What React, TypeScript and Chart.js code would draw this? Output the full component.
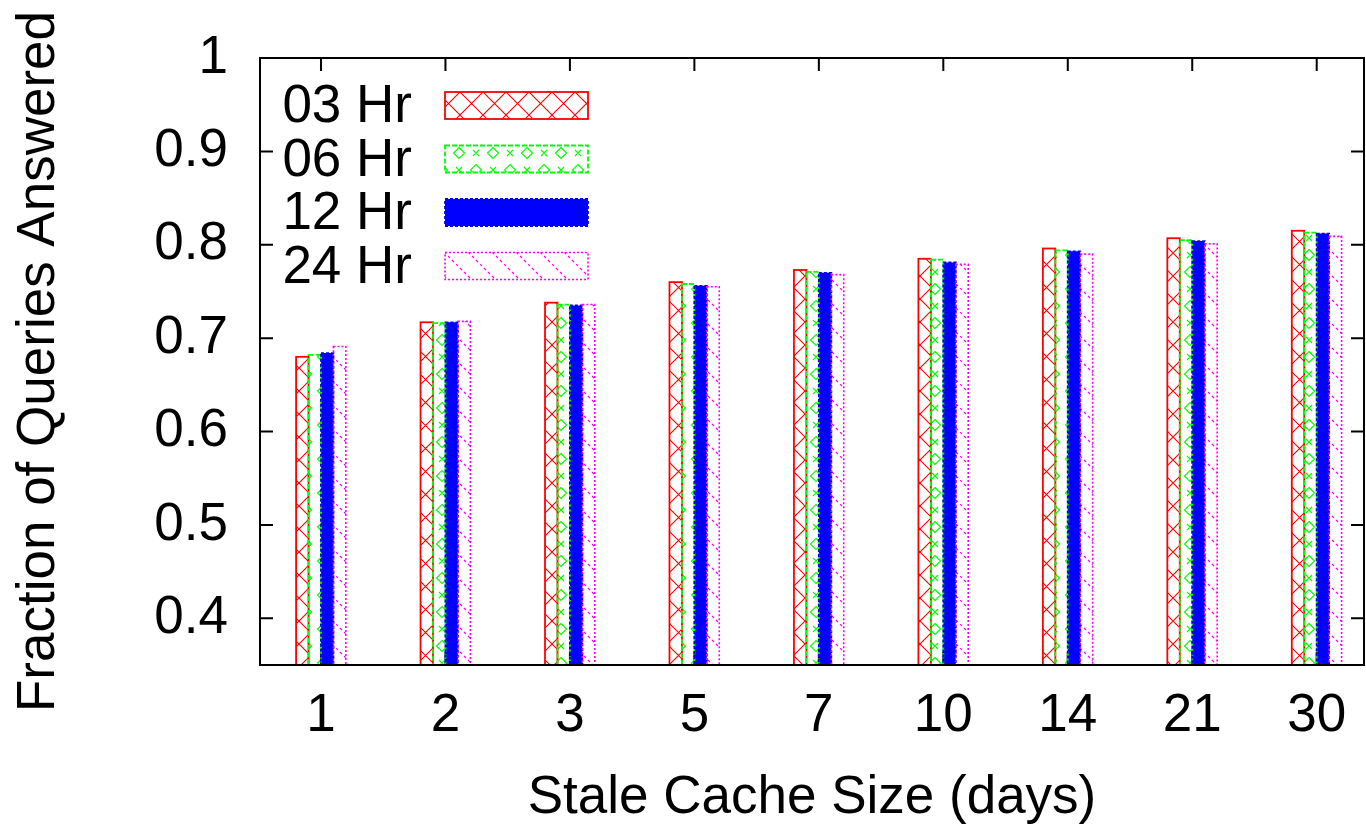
import React, { useEffect, useRef } from 'react';
import { Chart, registerables } from 'chart.js';

Chart.register(...registerables);

const categories = ['1', '2', '3', '5', '7', '10', '14', '21', '30'];
const seriesLabels = ['03 Hr', '06 Hr', '12 Hr', '24 Hr'];
const hr03 = [0.680, 0.717, 0.738, 0.760, 0.773, 0.785, 0.796, 0.807, 0.815];
const hr06 = [0.682, 0.716, 0.736, 0.758, 0.771, 0.784, 0.794, 0.805, 0.813];
const hr12 = [0.684, 0.717, 0.735, 0.756, 0.770, 0.781, 0.793, 0.804, 0.812];
const hr24 = [0.691, 0.718, 0.736, 0.755, 0.768, 0.779, 0.790, 0.801, 0.809];
const yTicks = [0.4, 0.5, 0.6, 0.7, 0.8, 0.9, 1];
const xTitle = 'Stale Cache Size (days)';
const yTitle = 'Fraction of Queries Answered';

const FONT = '"Liberation Sans", Arial, Helvetica, sans-serif';
const FS = 53;

function makeTile(w: number, h: number, draw: (c: CanvasRenderingContext2D) => void) {
  const cv = document.createElement('canvas');
  cv.width = w;
  cv.height = h;
  const c = cv.getContext('2d') as CanvasRenderingContext2D;
  draw(c);
  return c.createPattern(cv, 'repeat') as CanvasPattern;
}

function buildPatterns() {
  const red = makeTile(23, 23, (c) => {
    c.strokeStyle = '#ff0000';
    c.lineWidth = 1.1;
    c.beginPath();
    for (const o of [-23, 0, 23]) {
      c.moveTo(o, 0);
      c.lineTo(o + 23, 23);
      c.moveTo(o + 23, 0);
      c.lineTo(o, 23);
    }
    c.stroke();
  });
  const green = makeTile(34, 34, (c) => {
    c.strokeStyle = '#00ff00';
    c.lineWidth = 1.2;
    const diamond = (x: number, y: number) => {
      const r = 5.5;
      c.moveTo(x, y - r);
      c.lineTo(x + r, y);
      c.lineTo(x, y + r);
      c.lineTo(x - r, y);
      c.closePath();
    };
    const cross = (x: number, y: number) => {
      const r = 3;
      c.moveTo(x - r, y - r);
      c.lineTo(x + r, y + r);
      c.moveTo(x + r, y - r);
      c.lineTo(x - r, y + r);
    };
    c.beginPath();
    for (const [x, y] of [[0, 0], [34, 0], [0, 34], [34, 34], [17, 17]]) diamond(x, y);
    for (const [x, y] of [[17, 0], [17, 34], [0, 17], [34, 17]]) cross(x, y);
    c.stroke();
  });
  const magenta = makeTile(24, 24, (c) => {
    c.strokeStyle = '#ff00ff';
    c.lineWidth = 1.1;
    c.beginPath();
    for (let t = 0; t < 24; t += 4) {
      c.moveTo(t, t);
      c.lineTo(t + 2, t + 2);
    }
    c.stroke();
  });
  return { red, green, blue: '#0000ff', magenta };
}

const borderStyles = [
  { color: '#ff0000', dash: [] as number[], width: 1.8 },
  { color: '#00ff00', dash: [5, 2], width: 1.8 },
  { color: '#0000ff', dash: [3, 2], width: 1.8 },
  { color: '#ff00ff', dash: [2, 2], width: 1.6 },
];

const framePlugin = {
  id: 'gnuFrame',
  beforeDatasetsDraw(chart: any) {
    const { ctx, chartArea: a, scales } = chart;
    const x = scales.x;
    const y = scales.y;
    ctx.save();
    ctx.strokeStyle = '#000';
    ctx.lineWidth = 2;
    ctx.beginPath();
    y.ticks.forEach((t: any) => {
      const py = y.getPixelForValue(t.value);
      ctx.moveTo(a.left, py);
      ctx.lineTo(a.left + 13, py);
      ctx.moveTo(a.right, py);
      ctx.lineTo(a.right - 13, py);
    });
    x.ticks.forEach((t: any) => {
      const px = x.getPixelForValue(t.value);
      ctx.moveTo(px, a.top);
      ctx.lineTo(px, a.top + 13);
      ctx.moveTo(px, a.bottom);
      ctx.lineTo(px, a.bottom - 13);
    });
    ctx.stroke();
    ctx.restore();
  },
  afterDatasetsDraw(chart: any) {
    const { ctx, chartArea: a } = chart;
    ctx.save();
    chart.data.datasets.forEach((ds: any, i: number) => {
      const st = borderStyles[i];
      const meta = chart.getDatasetMeta(i);
      ctx.strokeStyle = st.color;
      ctx.lineWidth = st.width;
      ctx.setLineDash(st.dash);
      meta.data.forEach((el: any) => {
        const p = el.getProps(['x', 'y', 'width', 'base'], true);
        const bottom = Math.min(p.base, a.bottom);
        ctx.strokeRect(p.x - p.width / 2, p.y, p.width, bottom - p.y);
      });
    });
    ctx.setLineDash([]);
    ctx.strokeStyle = '#000';
    ctx.lineWidth = 2;
    ctx.strokeRect(a.left, a.top, a.right - a.left, a.bottom - a.top);
    ctx.restore();
  },
  afterDraw(chart: any) {
    const { ctx, chartArea: a } = chart;
    ctx.save();
    ctx.font = `${FS}px ${FONT}`;
    ctx.textAlign = 'right';
    ctx.textBaseline = 'middle';
    chart.data.datasets.forEach((ds: any, i: number) => {
      const cy = a.top + 47.5 + i * 53.5;
      ctx.fillStyle = '#000';
      ctx.fillText(ds.label, a.left + 152, cy + 2);
      const bx = a.left + 185;
      const bw = 143;
      const bh = 27;
      ctx.fillStyle = ds.backgroundColor;
      ctx.fillRect(bx, cy - bh / 2, bw, bh);
      const st = borderStyles[i];
      ctx.strokeStyle = st.color;
      ctx.lineWidth = st.width;
      ctx.setLineDash(st.dash);
      ctx.strokeRect(bx, cy - bh / 2, bw, bh);
      ctx.setLineDash([]);
    });
    ctx.restore();
  },
};

export default function App() {
  const ref = useRef<HTMLCanvasElement>(null);
  useEffect(() => {
    const pats = buildPatterns();
    const fills = [pats.red, pats.green, pats.blue, pats.magenta];
    const series = [hr03, hr06, hr12, hr24];
    const chart = new Chart(ref.current as HTMLCanvasElement, {
      type: 'bar',
      data: {
        datasets: series.map((vals, i) => ({
          label: seriesLabels[i],
          data: vals.map((v, j) => ({ x: j, y: v })),
          backgroundColor: fills[i] as any,
          borderWidth: 0,
          categoryPercentage: 0.4,
          barPercentage: 1.0,
        })),
      },
      options: {
        responsive: false,
        animation: false,
        layout: { padding: { left: 0, top: 58, right: 2, bottom: 0 } },
        plugins: { legend: { display: false }, tooltip: { enabled: false } },
        scales: {
          x: {
            type: 'linear',
            min: -0.49,
            max: 8.38,
            offset: false,
            grid: { display: false, drawTicks: false },
            border: { display: false },
            afterBuildTicks: (s: any) => {
              s.ticks = categories.map((_, i) => ({ value: i }));
            },
            afterFit: (s: any) => {
              s.height = 163;
              s.paddingLeft = 0;
              s.paddingRight = 0;
            },
            ticks: {
              autoSkip: false,
              maxRotation: 0,
              padding: 20,
              color: '#000',
              font: { family: FONT, size: FS },
              callback: (v: any) => categories[v as number] ?? '',
            },
            title: {
              display: true,
              text: xTitle,
              color: '#000',
              font: { family: FONT, size: FS },
              padding: { top: 0, bottom: -2 },
            },
          },
          y: {
            min: 0.35,
            max: 1,
            grid: { display: false, drawTicks: false },
            border: { display: false },
            afterBuildTicks: (s: any) => {
              s.ticks = yTicks.map((v) => ({ value: v }));
            },
            afterFit: (s: any) => {
              s.width = 260;
              s.paddingTop = 0;
              s.paddingBottom = 0;
            },
            ticks: {
              padding: 32,
              color: '#000',
              font: { family: FONT, size: FS },
              callback: (v: any) => String(v),
            },
            title: {
              display: true,
              text: yTitle,
              color: '#000',
              font: { family: FONT, size: FS },
              padding: { top: 8, bottom: 0 },
            },
          },
        },
      },
      plugins: [framePlugin],
    } as any);
    return () => chart.destroy();
  }, []);
  return (
    <div style={{ position: 'fixed', left: 0, top: 0, width: 1366, height: 828, background: '#fff' }}>
      <canvas ref={ref} width={1366} height={828} style={{ display: 'block' }} />
    </div>
  );
}
